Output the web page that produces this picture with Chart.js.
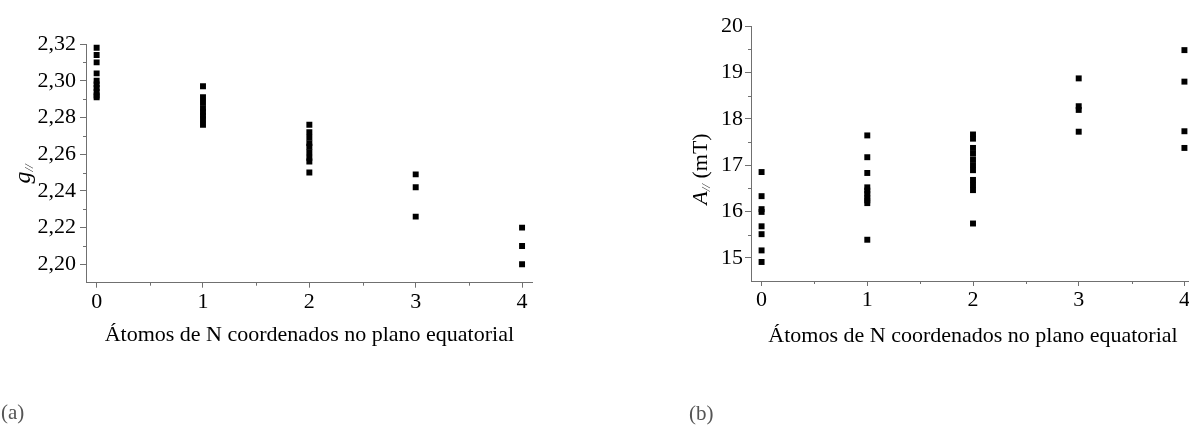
<!DOCTYPE html>
<html>
<head>
<meta charset="utf-8">
<script src="https://cdn.jsdelivr.net/npm/chart.js@4/dist/chart.umd.min.js"></script>
<style>
  html, body { margin: 0; padding: 0; background: #fff; }
  body { width: 1189px; height: 428px; overflow: hidden; position: relative; font-family: "Liberation Serif", serif; }
  canvas { position: absolute; top: 0; }
  #chartG { left: 0; }
  #chartA { left: 600px; }
  .ytitle { position: absolute; white-space: nowrap; transform: translate(-50%, -50%) rotate(-90deg); font-size: 24px; color: #000; }
  .ytitle sub { font-size: 13px; font-style: italic; vertical-align: -3px; }
  .panel { position: absolute; font-size: 21px; color: #555; }
</style>
</head>
<body>
<canvas id="chartG" width="560" height="428"></canvas>
<canvas id="chartA" width="600" height="428"></canvas>
<div class="ytitle" style="left:23px; top:174px;"><i>g</i><sub>//</sub></div>
<div class="ytitle" style="left:700px; top:169px; font-size:22px;"><i>A</i><sub>//</sub> (mT)</div>
<div class="panel" style="left:1px; top:400px;">(a)</div>
<div class="panel" style="left:689px; top:401px;">(b)</div>
<script>
// number of equatorial N atoms
const nAtoms = [0, 1, 2, 3, 4];
const xMinorTicks = [0.5, 1.5, 2.5, 3.5];

// g parallel values for each N count
const gN0 = [2.318, 2.314, 2.310, 2.304, 2.300, 2.298, 2.296, 2.294, 2.292, 2.291];
const gN1 = [2.297, 2.291, 2.288, 2.285, 2.283, 2.281, 2.279, 2.276];
const gN2 = [2.276, 2.272, 2.269, 2.266, 2.264, 2.261, 2.258, 2.256, 2.250];
const gN3 = [2.249, 2.242, 2.226];
const gN4 = [2.220, 2.210, 2.200];
const gTicks = [2.20, 2.22, 2.24, 2.26, 2.28, 2.30, 2.32];
const gMinorTicks = [2.21, 2.23, 2.25, 2.27, 2.29, 2.31];

// A parallel values (mT) for each N count
const aN0 = [16.85, 16.33, 16.05, 15.99, 15.68, 15.51, 15.16, 14.91];
const aN1 = [17.64, 17.17, 16.83, 16.52, 16.45, 16.38, 16.30, 16.24, 16.18, 15.39];
const aN2 = [17.66, 17.57, 17.37, 17.25, 17.12, 17.00, 16.89, 16.68, 16.57, 16.46, 15.74];
const aN3 = [18.87, 18.27, 18.19, 17.72];
const aN4 = [19.48, 18.80, 17.73, 17.37];
const aTicks = [15, 16, 17, 18, 19, 20];
const aMinorTicks = [15.5, 16.5, 17.5, 18.5, 19.5];

const xTitle = 'Átomos de N coordenados no plano equatorial';
const axisGray = '#707070';
const serif = 'Liberation Serif';

function toPoints(groups) {
    const pts = [];
    groups.forEach((vals, i) => vals.forEach(v => pts.push({ x: nAtoms[i], y: v })));
    return pts;
}

const minorTickPlugin = {
    id: 'minorTicks',
    afterDraw(chart, args, opts) {
        const ctx = chart.ctx;
        const xs = chart.scales.x, ys = chart.scales.y;
        ctx.save();
        ctx.strokeStyle = axisGray;
        ctx.lineWidth = 1;
        ctx.beginPath();
        opts.x.forEach(v => {
            const px = Math.round(xs.getPixelForValue(v)) + 0.5;
            ctx.moveTo(px, xs.top);
            ctx.lineTo(px, xs.top + 3);
        });
        opts.y.forEach(v => {
            const py = Math.round(ys.getPixelForValue(v)) + 0.5;
            ctx.moveTo(ys.right, py);
            ctx.lineTo(ys.right - 3, py);
        });
        ctx.stroke();
        ctx.restore();
    }
};

function buildChart(id, groups, cfg) {
    const ctx = document.getElementById(id).getContext('2d');
    return new Chart(ctx, {
        type: 'scatter',
        data: {
            datasets: [{
                data: toPoints(groups),
                pointStyle: 'rect',
                pointRadius: 4.2,
                backgroundColor: '#000',
                borderWidth: 0
            }]
        },
        options: {
            responsive: false,
            animation: false,
            devicePixelRatio: 1,
            layout: { padding: cfg.padding },
            plugins: {
                legend: { display: false },
                tooltip: { enabled: false },
                minorTicks: { x: xMinorTicks, y: cfg.minorY }
            },
            scales: {
                x: {
                    type: 'linear',
                    min: -0.1,
                    max: 4.1,
                    afterBuildTicks: s => { s.ticks = nAtoms.map(v => ({ value: v })); },
                    afterFit: s => { s.height = 70; },
                    border: { color: axisGray, width: 1 },
                    grid: { drawOnChartArea: false, tickLength: 5, tickColor: axisGray },
                    ticks: { color: '#000', padding: 1, font: { family: serif, size: 22 } },
                    title: {
                        display: true,
                        text: xTitle,
                        color: '#000',
                        font: { family: serif, size: 22 },
                        padding: { top: 0, bottom: cfg.titlePad }
                    }
                },
                y: {
                    type: 'linear',
                    min: cfg.yMin,
                    max: cfg.yMax,
                    afterBuildTicks: s => { s.ticks = cfg.yTicks.map(v => ({ value: v })); },
                    afterFit: s => { s.width = cfg.yWidth; },
                    border: { color: axisGray, width: 1 },
                    grid: { drawOnChartArea: false, tickLength: 6, tickColor: axisGray },
                    ticks: {
                        color: '#000',
                        padding: cfg.yPad,
                        font: { family: serif, size: 22 },
                        callback: cfg.yFormat
                    }
                }
            }
        },
        plugins: [minorTickPlugin]
    });
}

buildChart('chartG', [gN0, gN1, gN2, gN3, gN4], {
    padding: { left: 0, top: 44, right: 27.3, bottom: 75.3 },
    yMin: 2.19, yMax: 2.32,
    yTicks: gTicks, minorY: gMinorTicks,
    yWidth: 86, yPad: 4, titlePad: 4,
    yFormat: v => v.toFixed(2).replace('.', ',')
});

buildChart('chartA', [aN0, aN1, aN2, aN3, aN4], {
    padding: { left: 0, top: 26, right: 5, bottom: 77 },
    yMin: 14.5, yMax: 20,
    yTicks: aTicks, minorY: aMinorTicks,
    yWidth: 151, yPad: 2, titlePad: 2,
    yFormat: v => String(v)
});
</script>
</body>
</html>
